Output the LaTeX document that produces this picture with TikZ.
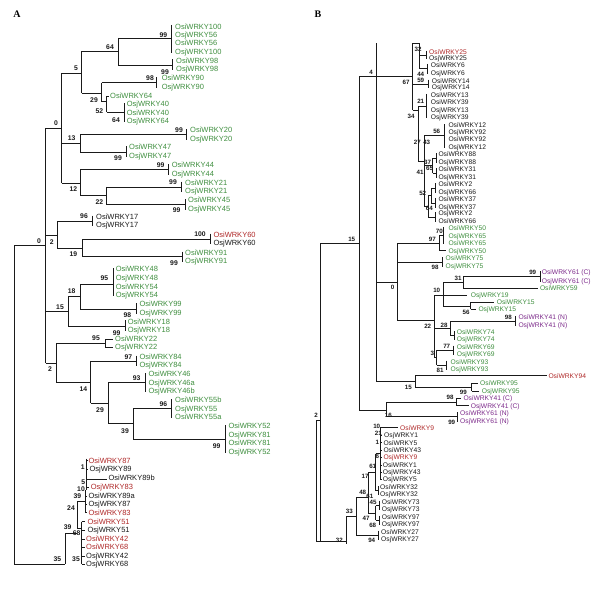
\documentclass[tikz,border=0pt]{standalone}
\usepackage{fontspec}
\setmainfont{Liberation Serif}
\newfontfamily\lsans{Liberation Sans}
\definecolor{gA}{HTML}{3F8F3F}
\definecolor{rA}{HTML}{B02A2A}
\definecolor{pA}{HTML}{7D2B8B}
\definecolor{kA}{HTML}{1A1A1A}
\newcounter{lc}
\tikzset{
 br/.style={line width=0.8pt, draw=kA},
 lbla/.style={font=\lsans\fontsize{7.5}{8}\selectfont, anchor=west, inner sep=0pt, text height=5.3pt, text depth=0pt},
 lblb/.style={font=\lsans\fontsize{6.7}{7}\selectfont, anchor=west, inner sep=0pt, text height=4.8pt, text depth=0pt},
 bsa/.style={font=\lsans\bfseries\fontsize{6.8}{7}\selectfont, inner sep=0pt, text height=4.9pt, text depth=0pt, text=kA},
 bsb/.style={font=\lsans\bfseries\fontsize{6.2}{7}\selectfont, inner sep=0pt, text height=4.5pt, text depth=0pt, text=kA},
 pan/.style={font=\bfseries\fontsize{10}{12}\selectfont, inner sep=0pt}
}
\newcommand\brV[3]{\draw[br] (#1,#2) -- (#1,#3);}
\newcommand\brH[3]{\draw[br] (#2,#1) -- (#3,#1);}
\newcommand\la[4]{\stepcounter{lc}\node[lbla,text=#4] (L\arabic{lc}) at (#1,#2) {#3};}
\newcommand\lb[4]{\stepcounter{lc}\node[lblb,text=#4] (L\arabic{lc}) at (#1,#2) {#3};}
\newcommand\ba[3]{\stepcounter{lc}\node[bsa] (S\arabic{lc}) at (#1,#2) {#3};}
\newcommand\bb[3]{\stepcounter{lc}\node[bsb] (S\arabic{lc}) at (#1,#2) {#3};}
\begin{document}
\begin{tikzpicture}[x=1pt,y=-1pt]
\useasboundingbox[fill=white] (0,0) rectangle (609,599);
\node[pan] (PA) at (17,14) {A};
\node[pan] (PB) at (318,14) {B};
%%%%%%%%%%%%%%%% PANEL A
% upper 0 clade
\brH{38}{118.3}{171.7}\brV{171.7}{25}{53}
\brH{65}{118.3}{172.7}\brV{172.7}{59.5}{70.2}
\brV{118.3}{38}{65}
\brH{51.5}{81.7}{118.3}\brV{81.7}{51.5}{93.3}
\brH{73.3}{61.7}{81.7}
\brH{93.3}{81.7}{101.7}\brV{101.7}{82.7}{101.7}
\brH{82.7}{101.7}{156.7}\brV{156.7}{77.3}{87.7}
\brH{101.7}{101.7}{106.7}\brV{106.7}{96}{112}
\brH{96}{106.7}{108.5}
\brH{112}{106.7}{124}\brV{124}{103}{121.7}
\brV{61.7}{73.3}{183}\brH{128}{45.7}{61.7}
\brH{143.3}{61.7}{80}\brV{80}{134.5}{152}
\brH{134.5}{80}{186.7}\brV{186.7}{129}{140}
\brH{152}{80}{126}\brV{126}{146.3}{157}
\brH{183}{61.7}{80}\brV{80}{169.5}{195.3}
\brH{169.5}{80}{168.3}\brV{168.3}{164}{175}
\brH{195.3}{80}{106.7}\brV{106.7}{186.9}{204.5}
\brH{186.9}{106.7}{181.7}\brV{181.7}{181.7}{192}
\brH{204.5}{106.7}{185}\brV{185}{199}{210}
\la{175}{26.5}{OsiWRKY100}{gA}\la{175}{35}{OsjWRKY56}{gA}
\la{175}{43.3}{OsiWRKY56}{gA}\la{175}{51.7}{OsjWRKY100}{gA}
\la{176}{60.7}{OsiWRKY98}{gA}\la{176}{69}{OsjWRKY98}{gA}
\la{161.7}{78.3}{OsiWRKY90}{gA}\la{161.7}{86.7}{OsjWRKY90}{gA}
\la{110}{96}{OsiWRKY64}{gA}\la{126.7}{104}{OsjWRKY40}{gA}
\la{126.7}{112.7}{OsiWRKY40}{gA}\la{126.7}{120.7}{OsjWRKY64}{gA}
\la{190}{130}{OsiWRKY20}{gA}\la{190}{139}{OsjWRKY20}{gA}
\la{129}{147.3}{OsiWRKY47}{gA}\la{129}{156}{OsjWRKY47}{gA}
\la{171.7}{165}{OsiWRKY44}{gA}\la{171.7}{174}{OsjWRKY44}{gA}
\la{185}{182.7}{OsiWRKY21}{gA}\la{185}{191}{OsjWRKY21}{gA}
\la{188}{200}{OsiWRKY45}{gA}\la{188}{209}{OsjWRKY45}{gA}
\ba{163.3}{35}{99}\ba{165}{71.7}{99}\ba{150}{78}{98}\ba{110}{46.7}{64}
\ba{76}{68.3}{5}\ba{94}{100}{29}\ba{99.3}{111}{52}\ba{116}{120}{64}
\ba{56}{122.7}{0}\ba{71.7}{138.3}{13}\ba{179}{130}{99}\ba{118}{158}{99}
\ba{73.3}{189.3}{12}\ba{160.7}{165}{99}\ba{99.3}{202.3}{22}
\ba{173}{181.7}{99}\ba{176.7}{210}{99}
% upper 2 clade
\brH{221}{57.3}{92.3}\brV{92.3}{215.7}{226.3}
\brV{57.3}{221}{248.3}\brH{235}{45.7}{57.3}
\brH{248.3}{57.3}{82.7}\brV{82.7}{239.3}{256.7}
\brH{239.3}{82.7}{210}\brV{210}{233.7}{244.3}
\brH{256.7}{82.7}{182.3}\brV{182.3}{251.7}{262}
\la{96}{216.7}{OsiWRKY17}{kA}\la{96}{225.3}{OsjWRKY17}{kA}
\la{213.3}{234.7}{OsiWRKY60}{rA}\la{213.3}{243.3}{OsjWRKY60}{kA}
\la{185}{252.7}{OsiWRKY91}{gA}\la{185}{261}{OsjWRKY91}{gA}
\ba{84}{216}{96}\ba{51.7}{241.7}{2}\ba{73.3}{254.3}{19}
\ba{200}{234}{100}\ba{174}{263}{99}
% root
\brH{245}{14}{45.7}\brV{45.7}{128}{363.3}\brV{14}{245}{564}
\ba{39}{240.7}{0}
% 15 clade
\brH{311}{45.7}{68.3}\brV{68.3}{296.5}{326}
\brH{296.5}{68.3}{80}\brV{80}{284}{309}
\brH{284}{80}{113.3}\brV{113.3}{268.3}{296}
\brH{309}{80}{136.7}\brV{136.7}{303.3}{313.7}
\brH{326}{68.3}{125}\brV{125}{320}{331}
\la{115.7}{269.3}{OsiWRKY48}{gA}\la{115.7}{277.7}{OsjWRKY48}{gA}
\la{115.7}{286.7}{OsiWRKY54}{gA}\la{115.7}{295}{OsjWRKY54}{gA}
\la{139.3}{304.3}{OsiWRKY99}{gA}\la{139.3}{312.7}{OsjWRKY99}{gA}
\la{127.7}{321.5}{OsiWRKY18}{gA}\la{127.7}{330.2}{OsjWRKY18}{gA}
\ba{104.3}{277.7}{95}\ba{71.7}{291}{18}\ba{60}{306.7}{15}
\ba{127.3}{315.2}{98}\ba{116.7}{333.3}{99}
% lower 2 clade
\brH{363.3}{45.7}{56.7}\brV{56.7}{343.3}{382.7}
\brH{343.3}{56.7}{105}\brV{105}{339.3}{347.3}
\brH{339.3}{105}{113}\brH{347.3}{105}{113}
\brH{382.7}{56.7}{90.7}\brV{90.7}{360.9}{403.3}
\brH{360.9}{90.7}{136.7}\brV{136.7}{355.7}{366}
\brH{403.3}{90.7}{108.3}\brV{108.3}{382.7}{423.3}
\brH{382.7}{108.3}{145}\brV{145}{373}{392.3}
\brH{423.3}{108.3}{133.3}\brV{133.3}{408.7}{439.3}
\brH{408.7}{133.3}{171.7}\brV{171.7}{399}{418.3}
\brH{439.3}{133.3}{225}\brV{225}{425}{453}
\la{115}{339.3}{OsiWRKY22}{gA}\la{115}{347.3}{OsjWRKY22}{gA}
\la{139.3}{356.7}{OsiWRKY84}{gA}\la{139.3}{365}{OsjWRKY84}{gA}
\la{148.3}{374}{OsiWRKY46}{gA}\la{148.3}{382.7}{OsjWRKY46a}{gA}
\la{148.3}{391.3}{OsjWRKY46b}{gA}
\la{175}{400}{OsiWRKY55b}{gA}\la{175}{408.7}{OsjWRKY55}{gA}
\la{175}{417.3}{OsiWRKY55a}{gA}
\la{228.3}{426}{OsiWRKY52}{gA}\la{228.3}{434.7}{OsjWRKY81}{gA}
\la{228.3}{443.3}{OsiWRKY81}{gA}\la{228.3}{452}{OsjWRKY52}{gA}
\ba{96}{338.3}{95}\ba{50}{369.3}{2}\ba{128.3}{356.7}{97}\ba{83.3}{389}{14}
\ba{136.7}{378.3}{93}\ba{100}{410}{29}\ba{163.3}{404}{96}\ba{125}{430.7}{39}
\ba{216.7}{446}{99}
% bottom cluster A
\brV{86}{458.5}{490}
\brH{460.7}{86}{87.5}\brH{469.3}{86}{88}\brH{479.3}{86}{106.5}
\brH{487.3}{86}{89}
\brV{85}{490}{512.7}\brH{496}{85}{87}\brH{504.3}{85}{87}\brH{512.7}{85}{87}
\brH{501}{77.3}{85}
\brV{77.3}{501}{528}\brH{528}{77.3}{81.7}
\brV{81.7}{521.7}{564.3}
\foreach \yy in {521.7,530,539,547.3,556,564.3} {\brH{\yy}{81.7}{84.5}}
\brH{533}{65}{77.3}
\brV{65}{533}{564}\brH{564}{14}{65}
\la{88.3}{460.7}{OsiWRKY87}{rA}\la{89.3}{469.3}{OsjWRKY89}{kA}
\la{108.3}{478.3}{OsiWRKY89b}{kA}\la{90.7}{487.3}{OsjWRKY83}{rA}
\la{88.3}{496}{OsiWRKY89a}{kA}\la{88.3}{504.3}{OsjWRKY87}{kA}
\la{88.3}{512.7}{OsiWRKY83}{rA}\la{87.3}{521.7}{OsiWRKY51}{rA}
\la{87.3}{530}{OsjWRKY51}{kA}\la{86}{539}{OsiWRKY42}{rA}
\la{86}{547.3}{OsiWRKY68}{rA}\la{86}{556}{OsjWRKY42}{kA}
\la{86}{564.3}{OsjWRKY68}{kA}
\ba{82.7}{467.3}{1}\ba{83.3}{481.7}{5}\ba{81}{489}{10}\ba{77.3}{496}{39}
\ba{71}{508.3}{24}\ba{67.7}{527.3}{39}\ba{76.7}{533.3}{68}
\ba{57.3}{559.3}{35}\ba{76}{559.3}{35}
%%%%%%%%%%%%%%%% PANEL B
\brV{376.7}{43.3}{381.7}
\brV{359.3}{76.7}{410}
\brH{243.3}{320.7}{359.3}
\brH{76.7}{359.3}{412.7}
% top cluster
\brV{412.7}{43.3}{110}\brH{43.3}{412.7}{419.3}
\brV{419.3}{43.3}{68.9}
\brH{55}{419.3}{426}\brV{426}{50.7}{59.3}
\brH{68.9}{419.3}{427}\brV{427}{64}{73.7}
\brH{84}{412.7}{428}\brV{428}{79.7}{88.3}
\brH{110}{412.7}{418.3}\brV{418.3}{106.2}{161}
\brH{106.2}{418.3}{426}\brV{426}{94}{118.3}
\brH{161}{418.3}{424}\brV{424}{135.8}{206.3}
\brH{135.8}{424}{444}\brV{444}{124}{147.7}
\brH{165.5}{424}{432.7}\brV{432.7}{158}{173}
\brH{158}{432.7}{436}\brV{436}{153.3}{162.7}
\brH{173}{432.7}{436}\brV{436}{168.3}{177.7}
\brH{206.3}{424}{428.3}\brV{428.3}{195.4}{217.2}
\brH{195.4}{428.3}{431}\brV{431}{187.9}{202.9}
\brH{187.9}{431}{435}\brV{435}{183}{192.7}
\brH{202.9}{431}{435}\brV{435}{198}{207.7}
\brH{217.2}{428.3}{435}\brV{435}{212.3}{222}
\lb{429}{51.7}{OsiWRKY25}{rA}\lb{429}{58.3}{OsjWRKY25}{kA}
\lb{430.7}{65}{OsiWRKY6}{kA}\lb{430.7}{72.7}{OsjWRKY6}{kA}
\lb{431.7}{80.7}{OsiWRKY14}{kA}\lb{431.7}{87.3}{OsjWRKY14}{kA}
\lb{430.7}{95}{OsiWRKY13}{kA}\lb{430.7}{102.3}{OsiWRKY39}{kA}
\lb{430.7}{110}{OsjWRKY13}{kA}\lb{430.7}{117.3}{OsjWRKY39}{kA}
\lb{448.3}{125}{OsiWRKY12}{kA}\lb{448.3}{131.7}{OsjWRKY92}{kA}
\lb{448.3}{139}{OsiWRKY92}{kA}\lb{448.3}{146.7}{OsjWRKY12}{kA}
\lb{438.3}{154.3}{OsiWRKY88}{kA}\lb{438.3}{161.7}{OsjWRKY88}{kA}
\lb{438.3}{169.3}{OsiWRKY31}{kA}\lb{438.3}{176.7}{OsjWRKY31}{kA}
\lb{438.3}{184}{OsiWRKY2}{kA}\lb{438.3}{191.7}{OsjWRKY66}{kA}
\lb{438.3}{199}{OsiWRKY37}{kA}\lb{438.3}{206.7}{OsjWRKY37}{kA}
\lb{438.3}{213.3}{OsjWRKY2}{kA}\lb{438.3}{221}{OsiWRKY66}{kA}
\bb{418}{49.5}{32}\bb{420.7}{74}{44}\bb{420.7}{80.7}{59}\bb{406}{82.7}{67}
\bb{420.7}{101.7}{21}\bb{411}{116}{34}\bb{436.7}{131.7}{56}\bb{417.3}{142.7}{27}
\bb{426.7}{142.7}{43}\bb{427.5}{161.8}{37}\bb{429.5}{168.6}{65}\bb{420}{172.7}{41}
\bb{422.7}{193.3}{52}\bb{429.3}{208.3}{64}\bb{371}{72.7}{4}
% middle clade (0)
\brH{282}{376.7}{397.3}\brV{397.3}{243.3}{320.7}
\brH{243.3}{397.3}{439.3}\brV{439.3}{235.8}{250.7}
\brH{235.8}{439.3}{443.3}\brV{443.3}{227.3}{244.3}
\brH{250.7}{439.3}{446}
\brH{262}{397.3}{442.7}\brV{442.7}{257.3}{266.7}
\lb{448.3}{228.3}{OsiWRKY50}{gA}\lb{448.3}{235.7}{OsjWRKY65}{gA}
\lb{448.3}{243.3}{OsiWRKY65}{gA}\lb{448.3}{250.7}{OsjWRKY50}{gA}
\lb{445.5}{258.3}{OsiWRKY75}{gA}\lb{445.5}{265.7}{OsjWRKY75}{gA}
\bb{439.3}{231}{70}\bb{432.3}{239.3}{97}\bb{435}{267.3}{98}\bb{392.7}{287.7}{0}
\brH{320.7}{397.3}{434.3}\brV{434.3}{295}{357.5}
\brH{295}{434.3}{466.7}\brV{443.3}{282.7}{306.7}
\brH{282.7}{443.3}{463.3}\brV{463.3}{276.7}{288.3}
\brH{276.7}{463.3}{540}\brV{540}{271.3}{281.7}
\brH{288.3}{463.3}{538}
\brH{306.7}{443.3}{470.7}\brV{470.7}{302.3}{309.3}
\brH{302.3}{470.7}{494}\brH{309.3}{470.7}{476}
\lb{541.7}{272.3}{OsiWRKY61 (C)}{pA}\lb{541.7}{280.7}{OsjWRKY61 (C)}{pA}
\lb{539.8}{288.3}{OsiWRKY59}{gA}\lb{470.7}{295.5}{OsjWRKY19}{gA}
\lb{496.7}{302.3}{OsiWRKY15}{gA}\lb{478.3}{309.3}{OsjWRKY15}{gA}
\bb{532.7}{272.3}{99}\bb{458}{278}{31}\bb{436.7}{290}{10}\bb{466}{312.5}{56}
\brH{328.4}{434.3}{450}\brV{450}{321}{335.8}
\brH{321}{450}{515}\brV{515}{316.3}{326}
\brH{335.8}{450}{454}\brV{454}{331.3}{340.3}
\lb{518.3}{317.3}{OsiWRKY41 (N)}{pA}\lb{518.3}{325}{OsjWRKY41 (N)}{pA}
\lb{456.7}{332.3}{OsiWRKY74}{gA}\lb{456.7}{339.3}{OsjWRKY74}{gA}
\bb{508.3}{317}{98}\bb{444}{325}{28}\bb{427.7}{326.7}{22}
\brH{357.5}{434.3}{436.7}\brV{436.7}{350}{365.3}
\brH{350}{436.7}{453.3}\brV{453.3}{345.7}{355}
\brH{365.3}{436.7}{446.7}\brV{446.7}{360.7}{370}
\lb{456.7}{346.7}{OsiWRKY69}{gA}\lb{456.7}{354}{OsjWRKY69}{gA}
\lb{450.5}{361.7}{OsiWRKY93}{gA}\lb{450.5}{369}{OsjWRKY93}{gA}
\bb{446.7}{346.7}{77}\bb{432.3}{353.3}{3}\bb{440}{370.7}{81}
% 15 node (94, 95)
\brH{381.7}{376.7}{415}\brV{415}{375.7}{387}
\brH{375.7}{415}{546.7}
\brH{387}{415}{471.7}\brV{471.7}{383.3}{391}
\brH{383.3}{471.7}{478}\brH{391}{471.7}{479}
\lb{548.3}{375.7}{OsiWRKY94}{rA}
\lb{480}{383.3}{OsiWRKY95}{gA}\lb{481.7}{391}{OsjWRKY95}{gA}
\bb{408.3}{387.5}{15}\bb{463.3}{392.7}{99}
% 16 node
\brH{410}{359.3}{386}\brV{386}{402.7}{416.7}
\brH{402.7}{386}{456.7}\brV{456.7}{398.3}{405.7}
\brH{398.3}{456.7}{461}\brH{405.7}{456.7}{468.5}
\brH{416.7}{386}{457.3}\brV{457.3}{412.3}{422}
\lb{463.3}{398.3}{OsiWRKY41 (C)}{pA}\lb{470.7}{405.7}{OsjWRKY41 (C)}{pA}
\lb{460}{413.3}{OsiWRKY61 (N)}{pA}\lb{460}{421}{OsjWRKY61 (N)}{pA}
\bb{450}{397.3}{98}\bb{388.3}{415}{16}\bb{451.7}{422}{99}\bb{351.7}{239}{15}
% root B
\brV{320.7}{243.3}{541.7}\brV{316.7}{420}{541.7}\brH{420}{316.7}{320.7}
\brH{541.7}{316.7}{346}
\bb{316}{415}{2}
% bottom cluster B
\brV{380}{427.7}{479.3}
\brH{427.7}{380}{398}
\foreach \yy in {435,442.7,450,457.3,465,472.3,479.3} {\brH{\yy}{380}{382}}
\lb{400}{427.7}{OsiWRKY9}{rA}\lb{384}{435}{OsjWRKY1}{kA}
\lb{383.3}{442.7}{OsiWRKY5}{kA}\lb{383.3}{450}{OsiWRKY43}{kA}
\lb{383.3}{457.3}{OsjWRKY9}{rA}\lb{382.7}{465}{OsiWRKY1}{kA}
\lb{382.7}{472.3}{OsjWRKY43}{kA}\lb{382.7}{479.3}{OsjWRKY5}{kA}
\brH{453.5}{375.5}{380}\brV{375.5}{453.5}{490.8}
\brH{490.8}{375.5}{378.3}\brV{378.3}{486.3}{495.3}
\lb{380}{487.3}{OsiWRKY32}{kA}\lb{380}{494.3}{OsjWRKY32}{kA}
\brV{375.5}{505.5}{520.3}
\brH{505.5}{375.5}{379.7}\brV{379.7}{500.7}{510.3}
\brH{520.3}{375.5}{379.7}\brV{379.7}{515.7}{525}
\lb{381.7}{501.7}{OsiWRKY73}{kA}\lb{381.7}{509.3}{OsjWRKY73}{kA}
\lb{381.7}{516.7}{OsiWRKY97}{kA}\lb{381.7}{524}{OsjWRKY97}{kA}
\brH{472.2}{368.3}{375.5}\brH{513}{368.3}{375.5}\brV{368.3}{472.2}{513}
\brH{497.3}{356}{368.3}\brV{356}{497.3}{535.3}
\brH{535.3}{356}{378.3}\brV{378.3}{530.7}{540}
\lb{381}{531.7}{OsiWRKY27}{kA}\lb{381}{539}{OsjWRKY27}{kA}
\brH{516}{346}{356}\brV{346}{516}{544}
\bb{376.7}{426.7}{10}\bb{378.3}{433.3}{21}\bb{377.3}{442.7}{1}\bb{377.3}{456}{6}
\bb{372.7}{466}{61}\bb{365}{476}{17}\bb{362.7}{492.7}{48}\bb{369.8}{495.8}{61}
\bb{373}{502.3}{45}\bb{366}{518.3}{47}\bb{372.7}{525.7}{68}\bb{371.7}{540.7}{94}
\bb{349.3}{511.7}{33}\bb{339.3}{540}{32}
\end{tikzpicture}
\end{document}
